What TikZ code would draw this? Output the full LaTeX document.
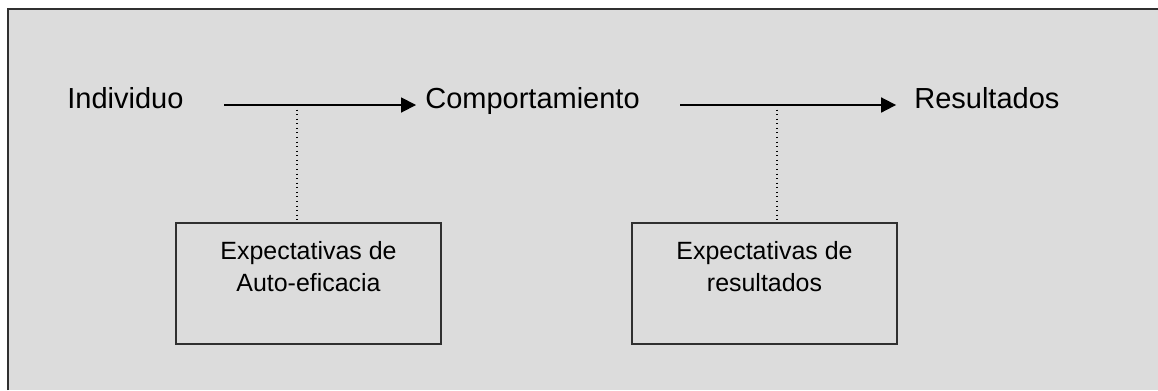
\documentclass[tikz,border=0pt]{standalone}
\usepackage{fontspec}
\setmainfont{Liberation Sans}
\usetikzlibrary{arrows.meta, calc}
\definecolor{fondo}{HTML}{DCDCDC}
\definecolor{borde}{HTML}{303030}

\begin{document}
\begin{tikzpicture}[x=0.02cm, y=-0.02cm,
    etiqueta/.style={inner sep=0pt, anchor=base west, font=\fontsize{16.5}{20}\selectfont},
    caja/.style={draw=borde, line width=1pt, minimum width=5.3cm, minimum height=2.42cm, inner sep=0pt},
    textocaja/.style={inner sep=0pt, anchor=north, align=center, font=\fontsize{14.2}{18.1}\selectfont},
    flecha/.style={-{Triangle[length=8.5pt,width=8.5pt]}, line width=1pt},
    guia/.style={dotted, line width=0.6pt}]
    \useasboundingbox (0,0) rectangle (1158,390);
    % Marco
    \fill[fondo] (8,9) rectangle (1158,390);
    \draw[borde, line width=1.3pt] (8,390) -- (8,9) -- (1158,9);
    % Conceptos
    \node[etiqueta] (ind) at (67,108) {Individuo};
    \node[etiqueta] (comp) at (425,108) {Comportamiento};
    \node[etiqueta] (res) at (914,108) {Resultados};
    % Expectativas
    \node[caja] (expA) at (308.5,283.5) {};
    \node[caja] (expB) at (764.5,283.5) {};
    \node[textocaja] (txtA) at ($(expA.north)+(0,18.7)$) {Expectativas de\\Auto-eficacia};
    \node[textocaja] (txtB) at ($(expB.north)+(0,18.7)$) {Expectativas de\\resultados};
    % Flechas
    \coordinate (s1) at (224,105);
    \coordinate (s2) at (680,105);
    \draw[flecha, shorten >=5.1pt] (s1) -- (s1 -| comp.west);
    \draw[flecha, shorten >=10.2pt] (s2) -- (s2 -| res.west);
    % Lineas guia
    \coordinate (g1) at (297,105);
    \coordinate (g2) at (777,105);
    \draw[guia] (g1) -- (g1 |- expA.north);
    \draw[guia] (g2) -- (g2 |- expB.north);
\end{tikzpicture}
\end{document}
